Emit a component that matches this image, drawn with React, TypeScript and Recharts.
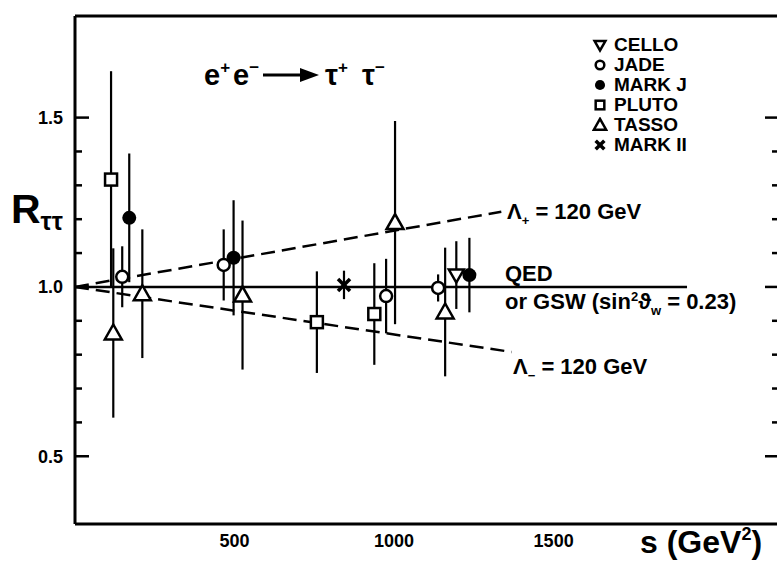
import React from "react";
import { ComposedChart, Scatter, Line, XAxis, YAxis, ErrorBar, Legend } from "recharts";

// s in GeV^2, R_tautau and its error
const CELLO_S = [1195];
const CELLO_R = [1.035];
const CELLO_ERR = [0.1];

const JADE_S = [148, 466, 975, 1138];
const JADE_R = [1.03, 1.065, 0.973, 0.997];
const JADE_ERR = [0.09, 0.105, 0.11, 0.04];

const MARKJ_S = [170, 497, 1236];
const MARKJ_R = [1.204, 1.086, 1.035];
const MARKJ_ERR = [0.19, 0.17, 0.11];

const PLUTO_S = [113, 758, 938];
const PLUTO_R = [1.317, 0.896, 0.92];
const PLUTO_ERR = [0.32, 0.15, 0.15];

const TASSO_S = [120, 211, 525, 1003, 1160];
const TASSO_R = [0.864, 0.98, 0.976, 1.19, 0.926];
const TASSO_ERR = [0.25, 0.19, 0.22, 0.3, 0.19];

const MARK2_S = [843];
const MARK2_R = [1.006];
const MARK2_ERR = [0.042];

// theory curves
const QED_S = [0, 1918];
const QED_R = [1.0, 1.0];
const LPLUS_S = [0, 1336];
const LPLUS_R = [1.0, 1.222];
const LMINUS_S = [0, 1368];
const LMINUS_R = [1.0, 0.808];

const X_TICKS = [500, 1000, 1500];
const X_TOP_TICKS = [500];
const Y_MAJOR = [0.5, 1.0, 1.5];
const Y_TICKS = [0.5, 0.6, 0.7, 0.8, 0.9, 1.0, 1.1, 1.2, 1.3, 1.4, 1.5];

type Kind = "cello" | "jade" | "markj" | "pluto" | "tasso" | "mark2";

const LEGEND: { name: string; kind: Kind }[] = [
  { name: "CELLO", kind: "cello" },
  { name: "JADE", kind: "jade" },
  { name: "MARK J", kind: "markj" },
  { name: "PLUTO", kind: "pluto" },
  { name: "TASSO", kind: "tasso" },
  { name: "MARK II", kind: "mark2" },
];

const FONT = "'Liberation Sans', Arial, sans-serif";

const pts = (s: number[], r: number[], e: number[]) =>
  s.map((v, i) => ({ s: v, r: r[i], err: e[i] }));
const curve = (s: number[], r: number[]) => s.map((v, i) => ({ s: v, r: r[i] }));

function Marker({ kind, cx, cy, k = 1 }: { kind: Kind; cx: number; cy: number; k?: number }) {
  const sw = 2.5;
  switch (kind) {
    case "cello":
      return (
        <polygon
          points={`${cx - 7.5 * k},${cy - 5.5 * k} ${cx + 7.5 * k},${cy - 5.5 * k} ${cx},${cy + 7.5 * k}`}
          fill="#fff" stroke="#000" strokeWidth={sw}
        />
      );
    case "jade":
      return <circle cx={cx} cy={cy} r={6 * k} fill="#fff" stroke="#000" strokeWidth={sw} />;
    case "markj":
      return <circle cx={cx} cy={cy} r={7 * k} fill="#000" />;
    case "pluto":
      return (
        <rect x={cx - 6 * k} y={cy - 6 * k} width={12 * k} height={12 * k}
          fill="#fff" stroke="#000" strokeWidth={sw} />
      );
    case "tasso":
      return (
        <polygon
          points={`${cx - 8.5 * k},${cy + 6.5 * k} ${cx + 8.5 * k},${cy + 6.5 * k} ${cx},${cy - 8.5 * k}`}
          fill="#fff" stroke="#000" strokeWidth={sw}
        />
      );
    default:
      return (
        <g stroke="#000" strokeWidth={3.5}>
          <line x1={cx - 6 * k} y1={cy - 6 * k} x2={cx + 6 * k} y2={cy + 6 * k} />
          <line x1={cx - 6 * k} y1={cy + 6 * k} x2={cx + 6 * k} y2={cy - 6 * k} />
        </g>
      );
  }
}

const shape = (kind: Kind) => (p: any) => <Marker kind={kind} cx={p.cx} cy={p.cy} />;

function LeftLabel({ x, y, payload }: any) {
  return (
    <text x={x - 12} y={y} dy="0.36em" textAnchor="end" fontSize={18} fontFamily={FONT}
      fontWeight="bold" fill="#000">
      {payload.value.toFixed(1)}
    </text>
  );
}

function BottomLabel({ x, y, payload }: any) {
  return (
    <text x={x} y={y + 23} textAnchor="middle" fontSize={18} fontFamily={FONT}
      fontWeight="bold" fill="#000">
      {payload.value}
    </text>
  );
}

const isMajor = (v: number) => Y_MAJOR.some((m) => Math.abs(m - v) < 1e-6);

// inward tick marks, longer at the labelled values
function LeftTick({ x, y, payload }: any) {
  const len = isMajor(payload.value) ? 14 : 7;
  return <line x1={x} x2={x + len} y1={y} y2={y} stroke="#000" strokeWidth={2.5} />;
}

function RightTick({ x, y, payload }: any) {
  const len = isMajor(payload.value) ? 12 : 5;
  return <line x1={x} x2={x - len} y1={y} y2={y} stroke="#000" strokeWidth={2.5} />;
}

function LegendBox() {
  return (
    <div style={{ fontFamily: FONT, fontWeight: "bold", fontSize: 19, color: "#000" }}>
      {LEGEND.map((e) => (
        <div key={e.name} style={{ height: 20, display: "flex", alignItems: "center" }}>
          <svg width={16} height={16} style={{ marginRight: 6 }}>
            <Marker kind={e.kind} cx={8} cy={8} k={0.72} />
          </svg>
          <span>{e.name}</span>
        </div>
      ))}
    </div>
  );
}

const axisLine = { stroke: "#000", strokeWidth: 3 };
const tickLine = { stroke: "#000", strokeWidth: 2.5 };
const txt = { fontFamily: FONT, fill: "#000" };

export default function App() {
  return (
    <div style={{ position: "absolute", left: 0, top: 0, background: "#fff" }}>
      <ComposedChart width={778} height={563} margin={{ top: 16, right: 0, bottom: 0, left: 0 }}>
        {/* bottom: labels, then inward ticks */}
        <XAxis xAxisId="x" dataKey="s" type="number" domain={[0, 2200]} ticks={X_TICKS}
          orientation="bottom" height={39} axisLine={axisLine} tickLine={false}
          tickSize={0} tickMargin={0} tick={(p: any) => <BottomLabel {...p} />} allowDataOverflow />
        <XAxis xAxisId="xt" dataKey="s" type="number" domain={[0, 2200]} ticks={X_TICKS}
          orientation="bottom" mirror height={24} axisLine={false} tickLine={tickLine}
          tickSize={12} tick={false} allowDataOverflow />
        {/* top frame */}
        <XAxis xAxisId="top" dataKey="s" type="number" domain={[0, 2200]} ticks={X_TOP_TICKS}
          orientation="top" mirror height={24} axisLine={axisLine} tickLine={tickLine}
          tickSize={12} tick={false} allowDataOverflow />
        {/* left: labels, then inward ticks */}
        <YAxis yAxisId="y" type="number" domain={[0.3, 1.8]} ticks={Y_MAJOR} width={75}
          axisLine={axisLine} tickLine={false} tickSize={0} tickMargin={0}
          tick={(p: any) => <LeftLabel {...p} />} allowDataOverflow interval={0} />
        <YAxis yAxisId="yt" type="number" domain={[0.3, 1.8]} ticks={Y_TICKS} width={24}
          mirror axisLine={false} tickLine={false} tickSize={0} tickMargin={0}
          tick={(p: any) => <LeftTick {...p} />} allowDataOverflow interval={0} />
        {/* right */}
        <YAxis yAxisId="right" orientation="right" type="number" domain={[0.3, 1.8]}
          ticks={Y_TICKS} width={1} axisLine={false} tickLine={false} tickSize={0}
          tickMargin={0} tick={(p: any) => <RightTick {...p} />} allowDataOverflow interval={0} />

        <Line xAxisId="x" yAxisId="y" data={curve(QED_S, QED_R)} dataKey="r" type="linear"
          stroke="#000" strokeWidth={2.5} dot={false} legendType="none" isAnimationActive={false} />
        <Line xAxisId="x" yAxisId="y" data={curve(LPLUS_S, LPLUS_R)} dataKey="r" type="linear"
          stroke="#000" strokeWidth={2.5} strokeDasharray="14 7" dot={false} legendType="none"
          isAnimationActive={false} />
        <Line xAxisId="x" yAxisId="y" data={curve(LMINUS_S, LMINUS_R)} dataKey="r" type="linear"
          stroke="#000" strokeWidth={2.5} strokeDasharray="14 7" dot={false} legendType="none"
          isAnimationActive={false} />

        <Scatter name="PLUTO" xAxisId="x" yAxisId="y" data={pts(PLUTO_S, PLUTO_R, PLUTO_ERR)}
          dataKey="r" shape={shape("pluto")} isAnimationActive={false}>
          <ErrorBar dataKey="err" direction="y" width={0} stroke="#000" strokeWidth={2.2} />
        </Scatter>
        <Scatter name="TASSO" xAxisId="x" yAxisId="y" data={pts(TASSO_S, TASSO_R, TASSO_ERR)}
          dataKey="r" shape={shape("tasso")} isAnimationActive={false}>
          <ErrorBar dataKey="err" direction="y" width={0} stroke="#000" strokeWidth={2.2} />
        </Scatter>
        <Scatter name="JADE" xAxisId="x" yAxisId="y" data={pts(JADE_S, JADE_R, JADE_ERR)}
          dataKey="r" shape={shape("jade")} isAnimationActive={false}>
          <ErrorBar dataKey="err" direction="y" width={0} stroke="#000" strokeWidth={2.2} />
        </Scatter>
        <Scatter name="MARK J" xAxisId="x" yAxisId="y" data={pts(MARKJ_S, MARKJ_R, MARKJ_ERR)}
          dataKey="r" shape={shape("markj")} isAnimationActive={false}>
          <ErrorBar dataKey="err" direction="y" width={0} stroke="#000" strokeWidth={2.2} />
        </Scatter>
        <Scatter name="CELLO" xAxisId="x" yAxisId="y" data={pts(CELLO_S, CELLO_R, CELLO_ERR)}
          dataKey="r" shape={shape("cello")} isAnimationActive={false}>
          <ErrorBar dataKey="err" direction="y" width={0} stroke="#000" strokeWidth={2.2} />
        </Scatter>
        <Scatter name="MARK II" xAxisId="x" yAxisId="y" data={pts(MARK2_S, MARK2_R, MARK2_ERR)}
          dataKey="r" shape={shape("mark2")} isAnimationActive={false}>
          <ErrorBar dataKey="err" direction="y" width={0} stroke="#000" strokeWidth={2.2} />
        </Scatter>

        <Legend layout="horizontal" align="center" verticalAlign="middle"
          wrapperStyle={{ left: 592, top: 35, width: 150 }} content={() => <LegendBox />} />

        {/* reaction */}
        <text x={204} y={85} fontSize={29} fontWeight="bold" {...txt}>
          e<tspan dy={-12} fontSize={17}>+</tspan>
          <tspan x={233} dy={12}>e</tspan>
          <tspan dy={-12} fontSize={17}>−</tspan>
        </text>
        <line x1={263} x2={304} y1={75} y2={75} stroke="#000" strokeWidth={3} />
        <polygon points="300,68 319,75 300,82" fill="#000" />
        <text x={325} y={85} fontSize={29} fontWeight="bold" {...txt}>
          τ<tspan dy={-12} fontSize={17}>+</tspan>
          <tspan x={362} dy={12}>τ</tspan>
          <tspan dy={-12} fontSize={17}>−</tspan>
        </text>

        {/* curve labels */}
        <text x={507} y={219} fontSize={22} fontWeight="bold" {...txt}>
          Λ<tspan dy={6} fontSize={13}>+</tspan>
          <tspan dy={-6}> = 120 GeV</tspan>
        </text>
        <text x={505} y={281} fontSize={22} fontWeight="bold" {...txt}>QED</text>
        <text x={505} y={309} fontSize={22} fontWeight="bold" {...txt}>
          or GSW (sin<tspan dy={-8} fontSize={13}>2</tspan>
          <tspan dy={8}>ϑ</tspan>
          <tspan dy={6} fontSize={13}>w</tspan>
          <tspan dy={-6}>{"   = 0.23)"}</tspan>
        </text>
        <text x={513} y={374} fontSize={22} fontWeight="bold" {...txt}>
          Λ<tspan dy={6} fontSize={13}>−</tspan>
          <tspan dy={-6}> = 120 GeV</tspan>
        </text>

        {/* axis titles */}
        <text x={11} y={223} fontSize={41} fontWeight="bold" {...txt}>
          R<tspan dy={7} fontSize={25}>ττ</tspan>
        </text>
        <text x={640} y={553} fontSize={32} fontWeight="bold" {...txt}>
          s (GeV<tspan dy={-13} fontSize={18}>2</tspan>
          <tspan dy={13}>)</tspan>
        </text>
      </ComposedChart>
    </div>
  );
}
